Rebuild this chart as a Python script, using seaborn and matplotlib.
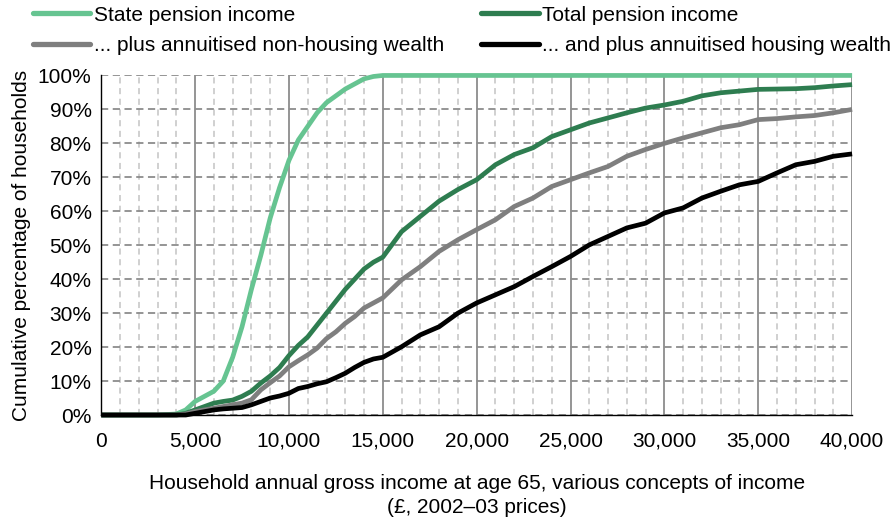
import numpy as np
import pandas as pd
import matplotlib
matplotlib.use("Agg")
import matplotlib.pyplot as plt
from matplotlib.ticker import MultipleLocator, FuncFormatter
import seaborn as sns

# Данные, доход в £, доля в %
income = [0, 1000, 2000, 3000, 4000, 4500, 5000, 5500, 6000, 6500, 7000, 7500,
          8000, 8500, 9000, 9500, 10000, 10500, 11000, 11500, 12000, 12500,
          13000, 13500, 14000, 14500, 15000, 16000, 17000, 18000, 19000, 20000,
          21000, 22000, 23000, 24000, 25000, 26000, 27000, 28000, 29000, 30000,
          31000, 32000, 33000, 34000, 35000, 36000, 37000, 38000, 39000, 40000]

state_pension = [0, 0, 0, 0, 0.3, 1.5, 4, 5.5, 7, 10, 17, 26,
                 37, 47, 58, 67, 75, 81, 85, 89, 92, 94,
                 96, 97.5, 99, 99.7, 100, 100, 100, 100, 100, 100,
                 100, 100, 100, 100, 100, 100, 100, 100, 100, 100,
                 100, 100, 100, 100, 100, 100, 100, 100, 100, 100]

total_pension = [0, 0, 0, 0, 0, 0.5, 1.5, 2.5, 3.5, 4, 4.4, 5.5,
                 7, 9.4, 11.5, 14, 17.5, 20.5, 23, 26.5, 30, 33.5,
                 37, 40, 43, 45, 46.5, 54, 58.5, 63, 66.4, 69.3,
                 73.7, 76.7, 78.7, 82, 84, 86, 87.5, 89, 90.4, 91.3,
                 92.4, 94, 94.9, 95.4, 95.9, 96, 96.1, 96.4, 96.9, 97.3]

plus_non_housing = [0, 0, 0, 0, 0, 0.3, 1, 1.5, 2, 2.5, 3, 3.5,
                    4.5, 7.4, 9.5, 11.5, 14.2, 16, 17.7, 19.7, 22.5, 24.5,
                    27, 29, 31.5, 33, 34.5, 39.8, 43.7, 48.2, 51.6, 54.6,
                    57.5, 61.4, 63.9, 67.3, 69.3, 71.3, 73.2, 76.2, 78.2, 80,
                    81.6, 83.1, 84.6, 85.5, 87, 87.3, 87.8, 88.2, 89, 90]

plus_housing = [0, 0, 0, 0, 0, 0, 0.5, 1, 1.5, 1.8, 2, 2.2,
                3, 4, 5, 5.6, 6.4, 7.8, 8.4, 9.2, 9.8, 11,
                12.3, 14, 15.5, 16.5, 17, 20.1, 23.6, 26, 30, 33,
                35.4, 37.8, 40.8, 43.7, 46.7, 50.1, 52.6, 55.1, 56.5, 59.5,
                61, 63.9, 65.9, 67.8, 68.8, 71.3, 73.7, 74.7, 76.2, 76.9]

series_names = ["State pension income", "Total pension income",
                "... plus annuitised non-housing wealth",
                "... and plus annuitised housing wealth"]
series_colors = ["#66c491", "#2e7d50", "#7f7f7f", "#000000"]

df = pd.DataFrame({
    "income": income * 4,
    "share": state_pension + total_pension + plus_non_housing + plus_housing,
    "series": np.repeat(series_names, len(income)),
})

sns.set_style("white")
plt.rcParams["font.family"] = ["Liberation Sans", "DejaVu Sans"]
plt.rcParams["text.color"] = "black"
plt.rcParams["axes.labelcolor"] = "black"

FS = 15

fig, ax = plt.subplots(figsize=(8.96, 5.24), dpi=100)
fig.subplots_adjust(left=0.113, right=0.951, bottom=0.208, top=0.856)

sns.lineplot(data=df, x="income", y="share", hue="series", hue_order=series_names,
             palette=series_colors, linewidth=3.4, legend=False, ax=ax)
for ln in ax.get_lines():
    ln.set_clip_on(False)
    ln.set_solid_capstyle("butt")
    ln.set_solid_joinstyle("round")

ax.set_xlim(0, 40000)
ax.set_ylim(0, 100)
ax.xaxis.set_major_locator(MultipleLocator(5000))
ax.xaxis.set_minor_locator(MultipleLocator(1000))
ax.yaxis.set_major_locator(MultipleLocator(10))
ax.xaxis.set_major_formatter(FuncFormatter(lambda v, p: f"{int(v):,}"))
ax.yaxis.set_major_formatter(FuncFormatter(lambda v, p: f"{int(v)}%"))

# Сетка
ax.grid(which="minor", axis="x", color="#c4c4c4", linestyle=(0, (4, 3)), linewidth=1.1)
ax.grid(which="major", axis="x", color="#8c8c8c", linestyle="-", linewidth=1.3)
ax.grid(which="major", axis="y", color="#8c8c8c", linestyle=(0, (4, 2.5)), linewidth=1.3)
ax.set_axisbelow(True)

for side in ["top", "right"]:
    ax.spines[side].set_visible(False)
for side in ["left", "bottom"]:
    ax.spines[side].set_color("black")
    ax.spines[side].set_linewidth(1.0)

ax.tick_params(axis="both", which="major", direction="out", length=5, width=1,
               color="black", labelsize=FS, labelcolor="black", pad=2)
ax.tick_params(axis="x", which="minor", length=0)
ax.tick_params(axis="x", which="major", pad=7)

ax.set_xlabel("Household annual gross income at age 65, various concepts of income\n"
              "(£, 2002–03 prices)", fontsize=FS, labelpad=17, linespacing=1.3)
ax.set_ylabel("Cumulative percentage of households", fontsize=FS, labelpad=5)

# Легенда: две колонки, порядок по строкам
lines = ax.get_lines()[:4]
order = [0, 2, 1, 3]
leg = fig.legend([lines[i] for i in order], [series_names[i] for i in order],
                 loc="upper left", bbox_to_anchor=(0.037, 0.989), ncol=2, frameon=False,
                 fontsize=FS, handlelength=2.75, handletextpad=0.15, columnspacing=1.8,
                 labelspacing=0.54, borderpad=0, borderaxespad=0)
for h in leg.get_lines():
    h.set_linewidth(3.8)
    h.set_solid_capstyle("round")

plt.savefig("out.png", dpi=100)
plt.close()
